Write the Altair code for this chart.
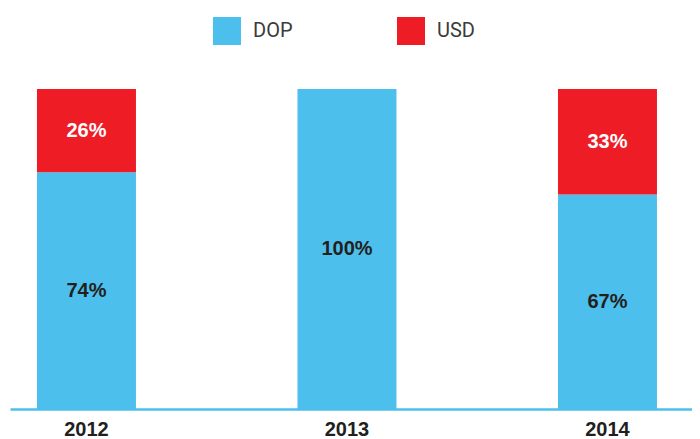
import altair as alt
import pandas as pd

years = ["2012", "2013", "2014"]
dop = [74, 100, 67]
usd = [26, 0, 33]
currencies = ["DOP", "USD"]
colors = ["#4cbfed", "#ee1c25"]
label_colors = ["#231f20", "#ffffff"]

rows = []
for i, y in enumerate(years):
    rows.append({"year": y, "cur": "DOP", "order": 0, "val": dop[i]})
    rows.append({"year": y, "cur": "USD", "order": 1, "val": usd[i]})
df = pd.DataFrame(rows)

xscale = alt.Scale(paddingInner=0.62, paddingOuter=0.119, align=0.435)
x = alt.X("year:N", title=None, sort=years, scale=xscale,
          axis=alt.Axis(labelAngle=0, labelFont="Liberation Sans", labelFontWeight="bold",
                        labelFontSize=20, labelColor="#231f20", labelPadding=10,
                        ticks=False, grid=False, domainColor="#4cbfed", domainWidth=2.5))

base = alt.Chart(df).transform_stack(
    stack="val", groupby=["year"], as_=["v0", "v1"], sort=[alt.SortField("order")]
).transform_calculate(mid="(datum.v0 + datum.v1) / 2")

yscale = alt.Scale(domain=[0, 100], nice=False)

bars = base.mark_bar().encode(
    x=x,
    y=alt.Y("v0:Q", scale=yscale, axis=None),
    y2="v1:Q",
    color=alt.Color("cur:N", scale=alt.Scale(domain=currencies, range=colors),
                    legend=alt.Legend(title=None, orient="none", direction="horizontal",
                                      legendX=203, legendY=-72, symbolType="square",
                                      symbolSize=784, symbolStrokeWidth=0, symbolOpacity=1,
                                      labelFont="Roboto", labelFontSize=20,
                                      labelColor="#3a3a3a", labelOffset=12,
                                      columnPadding=104)),
    order=alt.Order("order:Q"),
)

texts = base.transform_filter("datum.val > 0").transform_calculate(
    lab="datum.val + '%'"
).mark_text(font="Liberation Sans", fontWeight="bold", fontSize=20).encode(
    x=x,
    y=alt.Y("mid:Q", scale=yscale, axis=None),
    text="lab:N",
    color=alt.Color("cur:N", scale=alt.Scale(domain=currencies, range=label_colors), legend=None),
)

chart = alt.layer(bars, texts).resolve_scale(color="independent").properties(
    width=682, height=320,
    autosize=alt.AutoSizeParams(type="none"),
    padding={"left": 2, "top": 81, "right": 0, "bottom": 30},
).configure(background="white").configure_view(strokeWidth=0)

chart.save("out.html", embed_options={"renderer": "svg", "actions": False})
